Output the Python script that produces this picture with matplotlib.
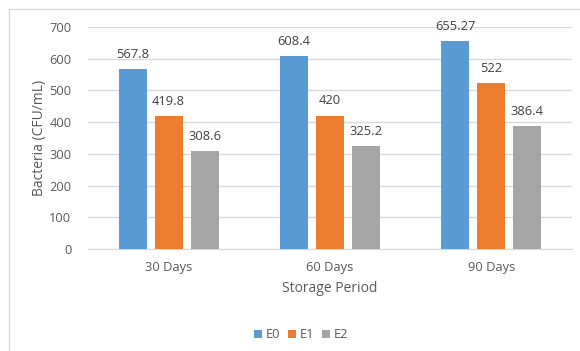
import numpy as np
import matplotlib.pyplot as plt
from matplotlib.patches import Rectangle

categories = ["30 Days", "60 Days", "90 Days"]
series_names = ["E0", "E1", "E2"]
e0 = [567.8, 608.4, 655.27]
e1 = [419.8, 420, 522]
e2 = [308.6, 325.2, 386.4]
yticks = [0, 100, 200, 300, 400, 500, 600, 700]

colors = ["#5B9BD5", "#ED7D31", "#A5A5A5"]
text_col = "#595959"

plt.rcParams['font.family'] = ['Open Sans', 'DejaVu Sans']

fig = plt.figure(figsize=(5.8, 3.51), dpi=100)
# chart frame (right/bottom edges fall outside the image)
fig.patches.append(Rectangle((9 / 580, -0.1), 1.2, 1 - 9 / 351 + 0.1,
                             transform=fig.transFigure, fill=False,
                             edgecolor="#D9D9D9", linewidth=1))

ax = fig.add_axes([88 / 580, 1 - 249 / 351, (572 - 88) / 580, (249 - 27) / 351])

x = np.arange(len(categories))
width = 0.173
step = 0.223
for i, (vals, name) in enumerate(zip([e0, e1, e2], series_names)):
    pos = x + (i - 1) * step
    bars = ax.bar(pos, vals, width, color=colors[i], label=name, zorder=3)
    for b, v in zip(bars, vals):
        ax.annotate(f"{v:g}", (b.get_x() + b.get_width() / 2, v),
                    xytext=(0, 6), textcoords="offset points",
                    ha="center", va="bottom", fontsize=9.3, color="#404040")

ax.set_xlim(-0.5, 2.5)
ax.set_ylim(0, 700)
ax.set_yticks(yticks)
ax.set_xticks(x)
ax.set_xticklabels(categories)
ax.grid(axis="y", color="#D9D9D9", linewidth=1, zorder=0)
for s in ["top", "right", "left"]:
    ax.spines[s].set_visible(False)
ax.spines["bottom"].set_color("#D9D9D9")
ax.tick_params(length=0, labelsize=9.3, colors=text_col)
ax.tick_params(axis="x", pad=9)
ax.tick_params(axis="y", pad=12)

ax.set_xlabel("Storage Period", fontsize=10, color=text_col, labelpad=5)
ax.set_ylabel("Bacteria (CFU/mL)", fontsize=10, color=text_col)
ax.yaxis.set_label_coords((40 - 88) / 484, 0.5)
ax.yaxis.label.set_va("center")

ax.legend(loc="center", bbox_to_anchor=(301 / 580, 1 - 335 / 351),
          bbox_transform=fig.transFigure, ncol=3, frameon=False,
          fontsize=9.3, handlelength=0.6, handleheight=0.6,
          columnspacing=0.6, handletextpad=0.3, labelcolor=text_col)

fig.savefig("out.png", dpi=100)
